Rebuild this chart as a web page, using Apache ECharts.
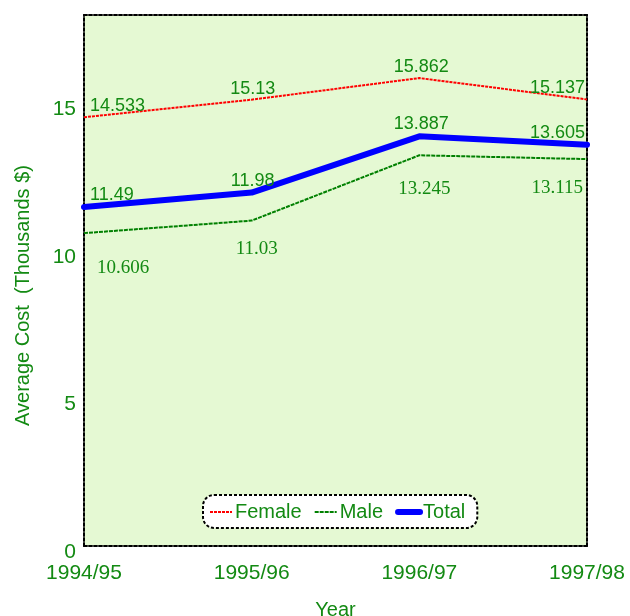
<!DOCTYPE html>
<html>
<head>
<meta charset="utf-8">
<script src="https://cdn.jsdelivr.net/npm/echarts@6/dist/echarts.min.js"></script>
<style>
  html, body { margin: 0; padding: 0; background: #ffffff; }
  #chart { width: 630px; height: 616px; }
</style>
</head>
<body>
<div id="chart"></div>
<script>
// Average cost per student, by sex, in thousands of dollars
const years = ['1994/95', '1995/96', '1996/97', '1997/98'];
const female = [14.533, 15.13, 15.862, 15.137];
const male = [10.606, 11.03, 13.245, 13.115];
const total = [11.49, 11.98, 13.887, 13.605];

const textGreen = '#138a13';
const sans = 'Liberation Sans, Arial, sans-serif';
const serif = 'Liberation Serif, Times New Roman, serif';

// Per-point label placement: first label hangs right, last hangs left
const topLabels = [
  { align: 'left', offset: [6, 0] },
  { align: 'center', offset: [1, 0] },
  { align: 'center', offset: [2, 0] },
  { align: 'right', offset: [-2, 0] }
];
const maleLabels = [
  { align: 'left', offset: [13, 0], distance: 25 },
  { align: 'center', offset: [5, 0], distance: 19 },
  { align: 'center', offset: [5, 0], distance: 24 },
  { align: 'right', offset: [-4, 0], distance: 19 }
];

function withLabels(values, placements) {
  return values.map((v, i) => ({ value: v, label: placements[i] }));
}

const chart = echarts.init(document.getElementById('chart'), null, { renderer: 'canvas' });

const borderLine = { show: true, onZero: false, lineStyle: { color: '#000', width: 2, type: [3, 2] } };

chart.setOption({
  animation: false,
  grid: {
    left: 84, right: 43, top: 15, bottom: 70,
    outerBoundsMode: 'none', containLabel: false,
    show: true, backgroundColor: '#e5f9d3', borderWidth: 0
  },
  legend: {
    left: 203, top: 495,
    padding: [7, 12, 6, 6],
    itemWidth: 22, itemHeight: 14, itemGap: 12,
    backgroundColor: '#ffffff',
    borderColor: '#000', borderWidth: 2, borderRadius: 11, borderType: [3, 2],
    itemStyle: { opacity: 0 },
    textStyle: { color: textGreen, fontFamily: sans, fontSize: 20, padding: [0, 0, 0, -2] },
    data: [
      'Female',
      'Male',
      { name: 'Total', lineStyle: { width: 6, cap: 'round' } }
    ]
  },
  xAxis: [{
    type: 'category', data: years, boundaryGap: false,
    name: 'Year', nameLocation: 'middle', nameGap: 54,
    nameTextStyle: { color: textGreen, fontFamily: sans, fontSize: 20 },
    axisLine: borderLine, axisTick: { show: false }, splitLine: { show: false },
    axisLabel: { color: textGreen, fontFamily: sans, fontSize: 21, margin: 17 }
  }, {
    type: 'category', data: years, boundaryGap: false, position: 'top',
    axisLine: borderLine, axisTick: { show: false }, axisLabel: { show: false }
  }],
  yAxis: [{
    type: 'value', min: 0, max: 18, interval: 5,
    name: 'Average Cost  (Thousands $)', nameLocation: 'middle', nameGap: 51,
    nameTextStyle: { color: textGreen, fontFamily: sans, fontSize: 20, padding: [0, 30, 0, 0] },
    axisLine: borderLine, axisTick: { show: false }, splitLine: { show: false },
    axisLabel: {
      color: textGreen, fontFamily: sans, fontSize: 21, margin: 8,
      verticalAlign: 'top', lineHeight: 12, showMaxLabel: false
    }
  }, {
    type: 'value', min: 0, max: 18, interval: 5, position: 'right',
    axisLine: borderLine, axisTick: { show: false }, axisLabel: { show: false },
    splitLine: { show: false }
  }],
  series: [{
    name: 'Female', type: 'line', symbol: 'circle', symbolSize: 0, showSymbol: true, z: 2,
    data: withLabels(female, topLabels),
    itemStyle: { color: '#ff0000' },
    lineStyle: { color: '#ff0000', width: 2, type: [3, 1] },
    label: {
      show: true, position: 'top', distance: 2,
      color: textGreen, fontFamily: sans, fontSize: 18
    }
  }, {
    name: 'Male', type: 'line', symbol: 'circle', symbolSize: 0, showSymbol: true, z: 2,
    data: withLabels(male, maleLabels),
    itemStyle: { color: '#008000' },
    lineStyle: { color: '#008000', width: 2, type: [4, 1] },
    label: {
      show: true, position: 'bottom',
      color: textGreen, fontFamily: serif, fontSize: 19
    }
  }, {
    name: 'Total', type: 'line', symbol: 'circle', symbolSize: 0, showSymbol: true, z: 3,
    data: withLabels(total, topLabels),
    itemStyle: { color: '#0000ff' },
    lineStyle: { color: '#0000ff', width: 6, cap: 'round', join: 'round' },
    label: {
      show: true, position: 'top', distance: 3,
      color: textGreen, fontFamily: sans, fontSize: 18
    }
  }]
});
</script>
</body>
</html>
